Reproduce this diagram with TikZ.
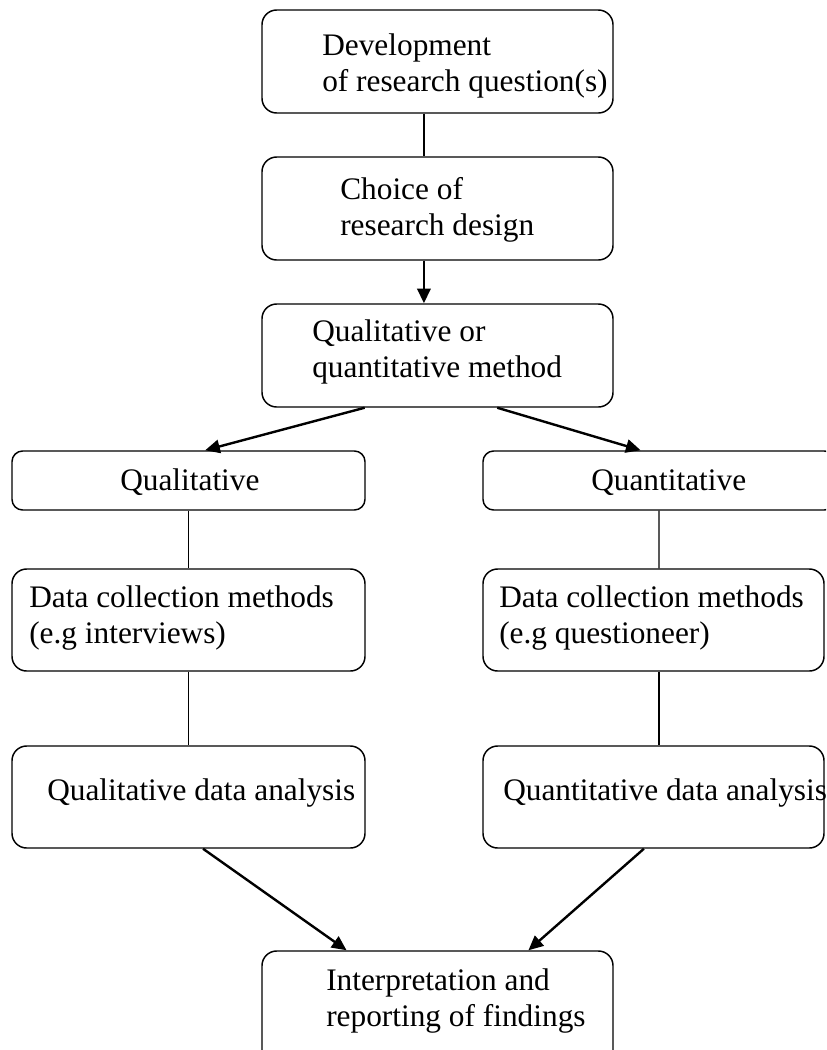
\documentclass[tikz,border=0pt]{standalone}
\usepackage{fontspec}
\setmainfont{Liberation Serif}
\usetikzlibrary{calc,arrows.meta}
\begin{document}
\begin{tikzpicture}[x=0.75pt,y=-0.75pt,
  box/.style={draw, line width=1.1pt, rounded corners=11pt, inner sep=0pt},
  txt/.style={inner sep=0pt, anchor=base west, align=left, font=\fontsize{23.5}{27}\selectfont},
  plain/.style={line width=1.1pt},
  arr/.style={line width=1.8pt, -{Triangle[length=11pt,width=10pt]}}]
\clip (0,0) rectangle (826,1050);
\fill[white] (0,0) rectangle (826,1050);
% boxes
\node[box, minimum width=263.25pt, minimum height=77.25pt] (b1) at (437.5,61.5) {};
\node[box, minimum width=263.25pt, minimum height=77.25pt] (b2) at (437.5,208.5) {};
\node[box, minimum width=263.25pt, minimum height=77.25pt] (b3) at (437.5,355.5) {};
\node[box, minimum width=264.75pt, minimum height=44.25pt, rounded corners=8pt] (ql) at (188.5,480.5) {};
\node[box, minimum width=264pt, minimum height=44.25pt, rounded corners=8pt] (qn) at (659,480.5) {};
\node[box, minimum width=264.75pt, minimum height=76.5pt] (dl) at (188.5,620) {};
\node[box, minimum width=255.75pt, minimum height=76.5pt] (dr) at (653.5,620) {};
\node[box, minimum width=264.75pt, minimum height=76.5pt] (al) at (188.5,797) {};
\node[box, minimum width=255.75pt, minimum height=76.5pt] (ar) at (653.5,797) {};
\node[box, minimum width=263.25pt, minimum height=85.5pt] (fi) at (437.5,1008) {};
% texts (anchor at the baseline of the last line)
\node[txt] (t1) at (322,91) {Development\\of research question(s)};
\node[txt] (t2) at (340,235) {Choice of\\research design};
\node[txt] (t3) at (312,377) {Qualitative or\\quantitative method};
\node[txt] (tql) at (120,490) {Qualitative};
\node[txt] (tqn) at (591,490) {Quantitative};
\node[txt] (tdl) at (29,643) {Data collection methods\\(e.g interviews)};
\node[txt] (tdr) at (499,643) {Data collection methods\\(e.g questioneer)};
\node[txt] (tal) at (47,800) {Qualitative data analysis};
\node[txt] (tar) at (503,800) {Quantitative data analysis};
\node[txt] (tfi) at (326,1026) {Interpretation and\\reporting of findings};
% connectors
\draw[plain] ($(b1.south west)!0.4615!(b1.south east)$) -- ($(b2.north west)!0.4615!(b2.north east)$);
\draw[arr] ($(b2.south west)!0.4615!(b2.south east)$) -- ($(b3.north west)!0.4615!(b3.north east)$);
\draw[arr] ($(b3.south west)!0.2934!(b3.south east)$) -- ($(ql.north west)!0.547!(ql.north east)$);
\draw[arr] ($(b3.south west)!0.6695!(b3.south east)$) -- ($(qn.north west)!0.448!(qn.north east)$);
\draw[plain] (ql.south) -- (dl.north);
\draw[plain] (qn.south) -- ($(dr.north west)!0.516!(dr.north east)$);
\draw[plain] (dl.south) -- (al.north);
\draw[plain] ($(dr.south west)!0.516!(dr.south east)$) -- ($(ar.north west)!0.516!(ar.north east)$);
\draw[arr] ($(al.south west)!0.541!(al.south east)$) -- ($(fi.north west)!0.242!(fi.north east)$);
\draw[arr] ($(ar.south west)!0.472!(ar.south east)$) -- ($(fi.north west)!0.758!(fi.north east)$);
\end{tikzpicture}
\end{document}
